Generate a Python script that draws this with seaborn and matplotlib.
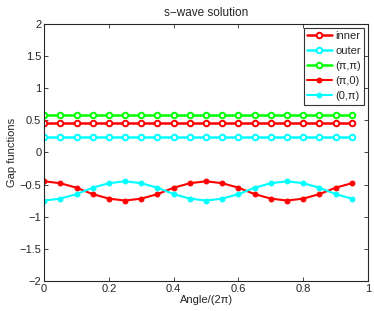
import matplotlib
matplotlib.use("Agg")
import matplotlib.pyplot as plt
import pandas as pd
import seaborn as sns

# angle in units of 2*pi
angle = [0.00, 0.05, 0.10, 0.15, 0.20, 0.25, 0.30, 0.35, 0.40, 0.45,
         0.50, 0.55, 0.60, 0.65, 0.70, 0.75, 0.80, 0.85, 0.90, 0.95]

inner = [0.45] * 20
outer = [0.245] * 20
pipi = [0.58] * 20
pi0 = [-0.45, -0.48, -0.55, -0.65, -0.72, -0.75, -0.72, -0.65, -0.55, -0.48,
       -0.45, -0.48, -0.55, -0.65, -0.72, -0.75, -0.72, -0.65, -0.55, -0.48]
zeropi = [-0.75, -0.72, -0.65, -0.55, -0.48, -0.45, -0.48, -0.55, -0.65, -0.72,
          -0.75, -0.72, -0.65, -0.55, -0.48, -0.45, -0.48, -0.55, -0.65, -0.72]

sns.set_style("ticks")
plt.rcParams['font.family'] = ['Liberation Sans', 'DejaVu Sans']
plt.rcParams['font.size'] = 8

fig = plt.figure(figsize=(3.74, 3.11), dpi=100)
ax = fig.add_axes([0.118, 0.097, 0.866, 0.826])

series = [
    ("inner", inner, "#ff0000", "open"),
    ("outer", outer, "#00ffff", "open"),
    ("(\u03c0,\u03c0)", pipi, "#00ff00", "open"),
    ("(\u03c0,0)", pi0, "#ff0000", "dot"),
    ("(0,\u03c0)", zeropi, "#00ffff", "dot"),
]

for name, vals, col, kind in series:
    df = pd.DataFrame({"Angle": angle, "Gap": vals})
    if kind == "open":
        sns.lineplot(data=df, x="Angle", y="Gap", ax=ax, color=col, lw=1.8,
                     marker="o", markersize=4, markerfacecolor="white",
                     markeredgecolor=col, markeredgewidth=1.4, label=name)
    else:
        sns.lineplot(data=df, x="Angle", y="Gap", ax=ax, color=col, lw=1.5,
                     marker="o", markersize=3.5, markerfacecolor=col,
                     markeredgecolor=col, label=name)

ax.set_xlim(0, 1)
ax.set_ylim(-2, 2)
ax.set_xticks([0, 0.2, 0.4, 0.6, 0.8, 1])
ax.set_xticklabels(["0", "0.2", "0.4", "0.6", "0.8", "1"])
ax.set_yticks([-2, -1.5, -1, -0.5, 0, 0.5, 1, 1.5, 2])
ax.set_yticklabels(["\u22122", "\u22121.5", "\u22121", "\u22120.5", "0", "0.5", "1", "1.5", "2"])
ax.tick_params(direction="in", top=True, right=True, length=3, width=0.6, labelsize=8, pad=2)
for s in ax.spines.values():
    s.set_linewidth(0.8)
    s.set_visible(True)

ax.set_xlabel("Angle/(2\u03c0)", fontsize=8, labelpad=1)
ax.set_ylabel("Gap functions", fontsize=8, labelpad=2)
ax.set_title("s\u2212wave solution", fontsize=8.5, pad=6)

leg = ax.legend(loc="upper right", fontsize=8, frameon=True, fancybox=False,
                edgecolor="black", handlelength=2.2, borderpad=0.3,
                labelspacing=0.45, handletextpad=0.3, borderaxespad=0.35)
leg.get_frame().set_linewidth(0.8)

fig.savefig("out.png", dpi=100)
